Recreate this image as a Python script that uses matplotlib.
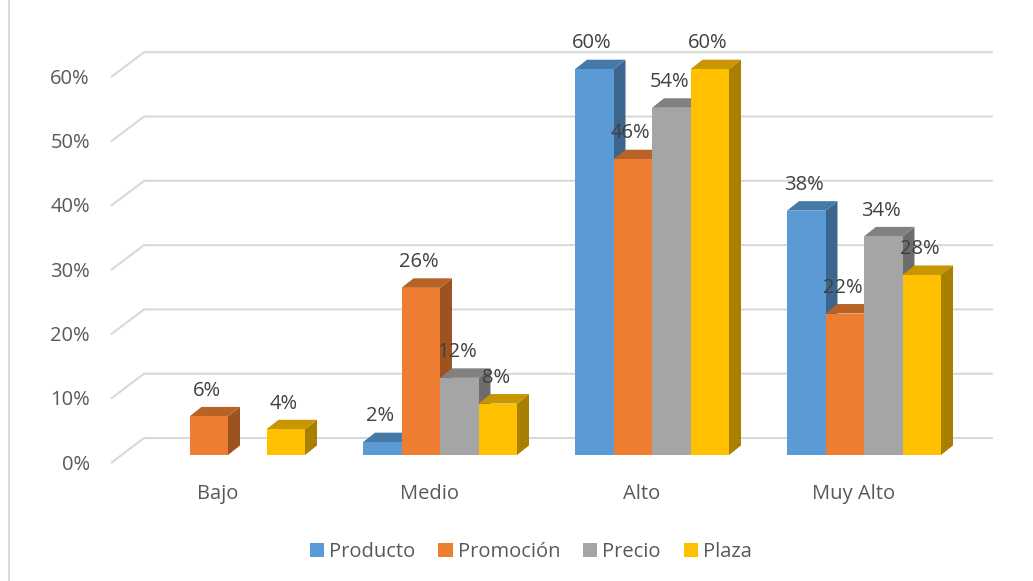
import matplotlib
matplotlib.use("Agg")
import matplotlib.pyplot as plt
from matplotlib.patches import Polygon, Patch
from matplotlib.lines import Line2D
from matplotlib.colors import to_rgb

plt.rcParams['font.family'] = ['Open Sans', 'DejaVu Sans']

categories = ['Bajo', 'Medio', 'Alto', 'Muy Alto']
series = ['Producto', 'Promoción', 'Precio', 'Plaza']
producto = [0, 2, 60, 38]
promocion = [6, 26, 46, 22]
precio = [0, 12, 54, 34]
plaza = [4, 8, 60, 28]
ticks = [0, 10, 20, 30, 40, 50, 60]

values = [producto, promocion, precio, plaza]
colors = ['#5B9BD5', '#ED7D31', '#A5A5A5', '#FFC000']


def shade(c, f):
    r, g, b = to_rgb(c)
    return (r * f, g * f, b * f)


# pixel layout of the canvas
W, H = 1033, 581
x0px, y0px = 228, 455          # where category 0 / value 0 lands
sx, sy = 212.0, 6.43            # px per category, px per percent
xlim = (-0.75, 3.75)
ylim = (-8, 66)

fig = plt.figure(figsize=(W / 100, H / 100), dpi=100)
left = (x0px + xlim[0] * sx) / W
right = (x0px + xlim[1] * sx) / W
top = 1 - (y0px - ylim[1] * sy) / H
bottom = 1 - (y0px - ylim[0] * sy) / H
ax = fig.add_axes([left, bottom, right - left, top - bottom])
ax.set_xlim(*xlim)
ax.set_ylim(*ylim)
ax.axis('off')

fs = 14.5

# 3d offsets in data units
bw = 38.5 / sx
dx, dy = 12 / sx, 9.5 / sy
wall_x0, wall_x1, wall_dy = -0.396, 3.608, 2.64
floor_x, floor_dy = -0.552, -1.24

grid_c = '#d9d9d9'
for t in ticks:
    ax.plot([floor_x, wall_x0, wall_x1], [t + floor_dy, t + wall_dy, t + wall_dy],
            color=grid_c, lw=1.5, zorder=1, solid_capstyle='butt')
    ax.text(-0.651, t - 1.5, f'{t}%', ha='right', va='center',
            fontsize=fs, color='#595959')

# bars, drawn left to right so each front face hides the previous side face
for ci in range(len(categories)):
    for si in range(len(series)):
        v = values[si][ci]
        if v == 0:
            continue
        xl = ci - 2 * bw + si * bw
        xr = xl + bw
        c = colors[si]
        side = Polygon([(xr, 0), (xr + dx, dy), (xr + dx, v + dy), (xr, v)],
                       closed=True, fc=shade(c, 0.66), ec='none', zorder=2)
        topf = Polygon([(xl, v), (xr, v), (xr + dx, v + dy), (xl + dx, v + dy)],
                       closed=True, fc=shade(c, 0.78), ec='none', zorder=2)
        front = Polygon([(xl, 0), (xr, 0), (xr, v), (xl, v)],
                        closed=True, fc=c, ec='none', zorder=2)
        for p in (side, topf, front):
            ax.add_patch(p)
        ax.text((xl + xr) / 2 - 0.01, v + 4.0, f'{v}%', ha='center', va='center',
                fontsize=fs, color='#404040', zorder=5)

for ci, cat in enumerate(categories):
    ax.text(ci - 0.05, -6.07, cat, ha='center', va='center',
            fontsize=fs, color='#595959', clip_on=False)

handles = [Patch(facecolor=c, edgecolor='none') for c in colors]
fig.legend(handles, series, loc='center', bbox_to_anchor=(531 / W, 1 - 552 / H),
           ncol=4, frameon=False, fontsize=fs, labelcolor='#595959',
           handlelength=0.7, handleheight=0.7, handletextpad=0.25,
           columnspacing=1.15)

# outer chart border
fig.add_artist(Line2D([8.5 / W, 8.5 / W], [0, 1], color=grid_c, lw=1.5))

fig.savefig('out.png', dpi=100)
